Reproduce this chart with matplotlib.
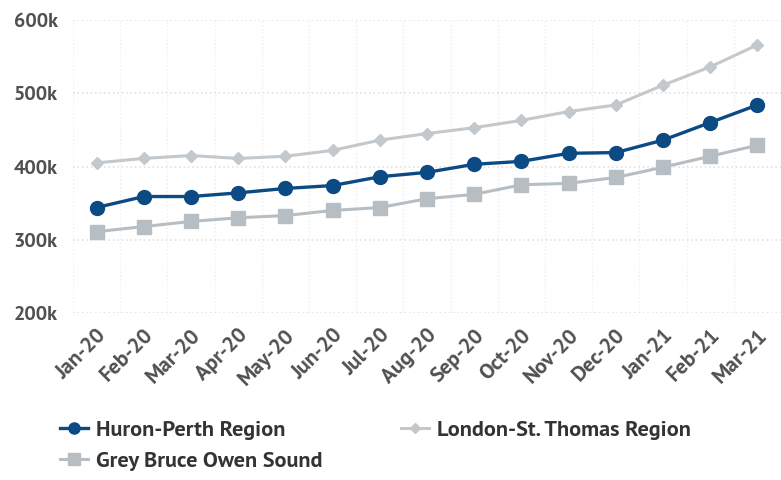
import matplotlib
matplotlib.use("Agg")
import matplotlib.pyplot as plt
from matplotlib import font_manager
from matplotlib.ticker import FuncFormatter, MultipleLocator

months = ["Jan-20", "Feb-20", "Mar-20", "Apr-20", "May-20", "Jun-20", "Jul-20",
          "Aug-20", "Sep-20", "Oct-20", "Nov-20", "Dec-20", "Jan-21", "Feb-21", "Mar-21"]
huron_perth = [344, 359, 359, 364, 370, 374, 386, 392, 403, 407, 418, 419, 436, 460, 484]
london_st_thomas = [405, 411, 415, 411, 414, 422, 436, 445, 453, 463, 475, 484, 511, 536, 566]
grey_bruce = [311, 318, 325, 330, 333, 340, 344, 356, 362, 375, 377, 385, 399, 414, 429]

names = {f.name for f in font_manager.fontManager.ttflist}
family = next((n for n in ("PT Sans", "Asap Condensed", "Open Sans")
               if n in names), "DejaVu Sans")
plt.rcParams["font.family"] = [family, "DejaVu Sans"]

fig = plt.figure(figsize=(7.81, 4.80), dpi=100)
ax = fig.add_axes([73 / 781, 1 - 313 / 480, 1 - 73 / 781, (313 - 20) / 480])

x = list(range(len(months)))
navy = "#0b4a82"
light = "#c3c8cc"
mid = "#b7bec3"

ax.plot(x, london_st_thomas, color=light, lw=2.2, marker="D", ms=6,
        label="London-St. Thomas Region", zorder=3)
ax.plot(x, grey_bruce, color=mid, lw=2.2, marker="s", ms=10,
        label="Grey Bruce Owen Sound", zorder=3)
ax.plot(x, huron_perth, color=navy, lw=2.4, marker="o", ms=10,
        label="Huron-Perth Region", zorder=4)

ax.set_ylim(200, 600)
ax.set_xlim(-0.5, 14.36)
ax.yaxis.set_major_locator(MultipleLocator(100))
ax.yaxis.set_major_formatter(FuncFormatter(lambda v, p: f"{int(v)}k"))
ax.set_xticks(x)
ax.set_xticklabels(months, rotation=45, ha="right", rotation_mode="anchor")
ax.tick_params(axis="both", length=0)
ax.tick_params(axis="y", pad=11, labelsize=14.5)
ax.tick_params(axis="x", pad=9, labelsize=15.5)
for lbl in ax.get_xticklabels() + ax.get_yticklabels():
    lbl.set_fontweight("bold")
    lbl.set_color("#505050")

ax.set_xticks([i + 0.5 for i in range(-1, 15)], minor=True)
ax.grid(axis="y", which="major", color="#e2e2e2", ls=":", lw=1.2)
ax.grid(axis="x", which="minor", color="#eeeeee", ls=":", lw=1.0)
ax.tick_params(axis="x", which="minor", length=0)
for s in ax.spines.values():
    s.set_visible(False)

handles, labels = ax.get_legend_handles_labels()
# legend fills column by column: Huron-Perth, Grey Bruce | London-St. Thomas
order = [2, 1, 0]
leg = fig.legend([handles[i] for i in order], [labels[i] for i in order],
                 loc="upper left", bbox_to_anchor=(44 / 781, 1 - 405 / 480),
                 ncol=2, frameon=False, handlelength=1.3, handletextpad=0.35,
                 columnspacing=3.5, labelspacing=0.5, markerscale=0.8,
                 borderaxespad=0.3,
                 prop={"family": [family, "DejaVu Sans"], "weight": "bold", "size": 16})
for t in leg.get_texts():
    t.set_color("#333333")

fig.savefig("out.png", dpi=100)
